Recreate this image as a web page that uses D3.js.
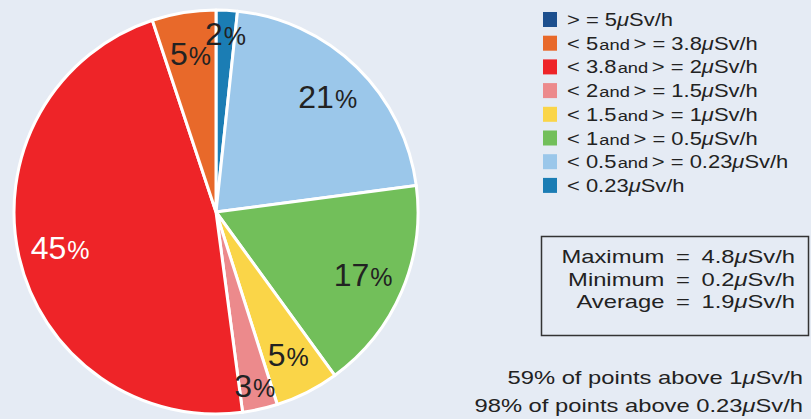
<!DOCTYPE html>
<html>
<head>
<meta charset="utf-8">
<script src="https://cdn.jsdelivr.net/npm/d3@7"></script>
<style>
  body { margin: 0; background: #e5ebf4; }
  svg { display: block; font-family: "Liberation Sans", Arial, sans-serif; }
</style>
</head>
<body>
<svg id="chart" width="811" height="419"></svg>
<script>
// legend order (top to bottom)
var categories = [">= 5", "< 5 and >= 3.8", "< 3.8 and >= 2", "< 2 and >= 1.5",
                  "< 1.5 and >= 1", "< 1 and >= 0.5", "< 0.5 and >= 0.23", "< 0.23"];
var legendText = ["> = 5μSv/h", "< 5|and|> = 3.8μSv/h", "< 3.8|and|> = 2μSv/h", "< 2|and|> = 1.5μSv/h",
                  "< 1.5|and|> = 1μSv/h", "< 1|and|> = 0.5μSv/h", "< 0.5|and|> = 0.23μSv/h", "< 0.23μSv/h"];
var colors = ["#1c4f8e", "#e8692a", "#ee2428", "#ec8a8c", "#fad548", "#72bf5a", "#9bc7ea", "#1b7db4"];
// share of points (%)
var shares = [0, 5.1, 47.0, 2.8, 5.1, 17.1, 21.2, 1.7];
// printed slice labels
var shownPct = ["", "5", "45", "3", "5", "17", "21", "2"];

var stats = ["Maximum = 4.8μSv/h", "Minimum = 0.2μSv/h", "Average = 1.9μSv/h"];
var notes = ["59% of points above 1μSv/h", "98% of points above 0.23μSv/h"];

var svg = d3.select("#chart");
var cx = 216, cy = 212, R = 202;
var sx = 1.22; // the side texts are set wide

// pie drawn clockwise from 12 o'clock starting with the lowest class
var data = categories.map(function (c, i) {
    return {cat: c, value: shares[i], color: colors[i], label: shownPct[i]};
}).reverse();

var pie = d3.pie().sort(null).value(function (d) { return d.value; });
var arc = d3.arc().innerRadius(0).outerRadius(R);

var g = svg.append("g").attr("transform", "translate(" + cx + "," + cy + ")");
var arcs = pie(data).filter(function (d) { return d.data.value > 0; });

g.selectAll("path")
    .data(arcs)
    .enter()
    .append("path")
    .attr("d", arc)
    .style("fill", function (d) { return d.data.color; })
    .style("stroke", "#fff")
    .style("stroke-width", 3)
    .style("stroke-linejoin", "round");

// labels: thin slices a bit further out
g.selectAll("text.pct")
    .data(arcs)
    .enter()
    .append("text")
    .attr("class", "pct")
    .each(function (d) {
        var r = d.data.value < 4 ? 178 : 160;
        var a = (d.startAngle + d.endAngle) / 2;
        var t = d3.select(this)
            .attr("x", Math.sin(a) * r)
            .attr("y", -Math.cos(a) * r + 11)
            .attr("text-anchor", "middle")
            .style("fill", d.data.label === "45" ? "#fff" : "#222");
        t.append("tspan").style("font-size", "32px").text(d.data.label);
        t.append("tspan").style("font-size", "25px").attr("dx", 1).text("%");
    });

function richText(sel, str, size) {
    // "|and|" parts get a smaller font, μ is italic, a bit of air round "="
    str.split("|").forEach(function (part, k) {
        if (part === "and") {
            sel.append("tspan").style("font-size", (size - 3) + "px").attr("dx", 1).text("and");
            return;
        }
        var pieces = part.split("μ");
        pieces.forEach(function (p, j) {
            if (j > 0) sel.append("tspan").style("font-style", "italic").text("μ");
            if (p.length) sel.append("tspan").attr("dx", (k > 0 && j === 0) ? 3 : null).text(p);
        });
    });
}

// legend
var leg = svg.append("g").attr("transform", "translate(543,12)");
var row = leg.selectAll("g")
    .data(categories)
    .enter()
    .append("g")
    .attr("transform", function (d, i) { return "translate(0," + (i * 23.7) + ")"; });
row.append("rect")
    .attr("width", 14)
    .attr("height", 15)
    .style("fill", function (d, i) { return colors[i]; });
row.append("text")
    .attr("transform", "translate(24,14) scale(" + sx + ",1)")
    .style("font-size", "18px")
    .style("fill", "#222")
    .each(function (d, i) { richText(d3.select(this), legendText[i], 18); });

// stats box
svg.append("rect")
    .attr("x", 541.5).attr("y", 236.5)
    .attr("width", 267).attr("height", 99)
    .style("fill", "none")
    .style("stroke", "#333")
    .style("stroke-width", 1.5);
svg.selectAll("text.stat")
    .data(stats)
    .enter()
    .append("text")
    .attr("class", "stat")
    .attr("transform", function (d, i) { return "translate(795," + (263 + i * 22.7) + ") scale(1.25,1)"; })
    .attr("text-anchor", "end")
    .style("font-size", "19px")
    .style("word-spacing", "4px")
    .style("fill", "#222")
    .each(function (d) { richText(d3.select(this), d, 19); });

svg.selectAll("text.note")
    .data(notes)
    .enter()
    .append("text")
    .attr("class", "note")
    .attr("transform", function (d, i) { return "translate(803," + (384 + i * 28) + ") scale(1.25,1)"; })
    .attr("text-anchor", "end")
    .style("font-size", "19px")
    .style("fill", "#222")
    .each(function (d) { richText(d3.select(this), d, 19); });
</script>
</body>
</html>
